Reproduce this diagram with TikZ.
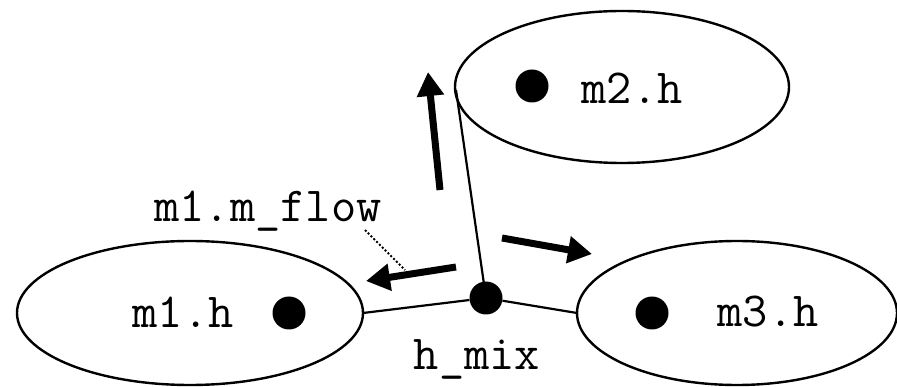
\documentclass[tikz,border=0pt]{standalone}
\usetikzlibrary{arrows.meta}
\begin{document}
\begin{tikzpicture}[x=1pt,y=-1pt,
  every node/.style={font=\ttfamily\fontsize{49}{49}\selectfont},
  port/.style={fill=black,circle,inner sep=0pt,minimum size=33pt},
  conn/.style={line width=2.2pt},
  flow/.style={line width=7pt,-{Triangle[length=24pt,width=26pt]}},
  lbl/.style={inner sep=0pt}]
\useasboundingbox (0,0) rectangle (897,387);
\draw[line width=2.4pt] (190,313) ellipse [x radius=173,y radius=72];
\draw[line width=2.4pt] (737,313) ellipse [x radius=160,y radius=72];
\draw[line width=2.4pt] (622,87) ellipse [x radius=167,y radius=76];
\coordinate (e1) at (363,313);
\coordinate (e3) at (577,313);
\coordinate (e2) at (456,90);
\node[port] (d1) at (289,313) {};
\node[port] (d2) at (532,86) {};
\node[port] (d3) at (652,313) {};
\node[port] (mix) at (486,298) {};
\node[lbl] (t1) at (183,312) {m1.h};
\node[lbl] (t2) at (632,88) {m2.h};
\node[lbl] (t3) at (768,312) {m3.h};
\node[lbl] (th) at (477,359) {h\_mix};
\node[lbl] (tf) at (268,211) {m1.m\_flow};
\draw[conn] (mix) -- (e1);
\draw[conn] (mix) -- (e3);
\draw[conn] (mix.center) -- (e2);
\coordinate (a1s) at (456,267); \coordinate (a1e) at (366,281);
\coordinate (a2s) at (502,238); \coordinate (a2e) at (592,254);
\coordinate (a3s) at (440,190); \coordinate (a3e) at (428,72);
\draw[flow] (a1s) -- (a1e);
\draw[flow] (a2s) -- (a2e);
\draw[flow] (a3s) -- (a3e);
\coordinate (ds) at (365,230); \coordinate (de) at (405,270);
\draw[line width=2pt,dotted] (ds) -- (de);
\end{tikzpicture}
\end{document}
